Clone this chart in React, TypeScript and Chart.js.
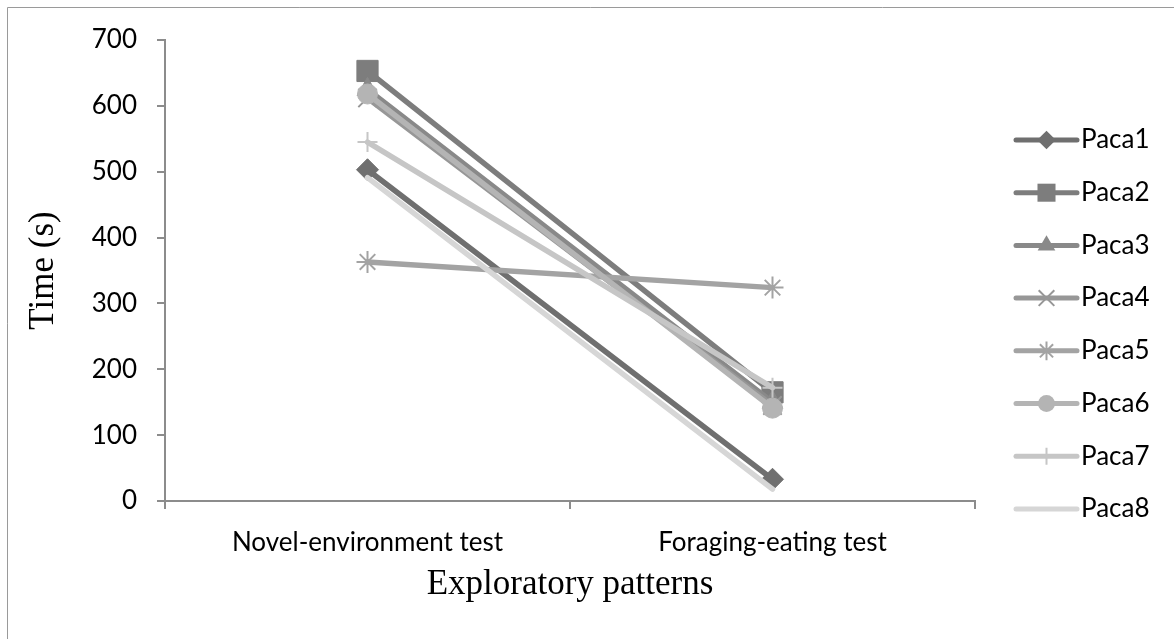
import React, { useEffect, useRef } from "react";
import { Chart, registerables } from "chart.js";

Chart.register(...registerables);

const categories = ["Novel-environment test", "Foraging-eating test"];
const seriesNames = ["Paca1", "Paca2", "Paca3", "Paca4", "Paca5", "Paca6", "Paca7", "Paca8"];
const paca1 = [503, 33];
const paca2 = [653, 165];
const paca3 = [625, 150];
const paca4 = [612, 145];
const paca5 = [363, 324];
const paca6 = [618, 141];
const paca7 = [545, 172];
const paca8 = [491, 18];
const seriesValues = [paca1, paca2, paca3, paca4, paca5, paca6, paca7, paca8];
const yTicks = [0, 100, 200, 300, 400, 500, 600, 700];

const colors = ["#6f6f6f", "#7d7d7d", "#898989", "#979797", "#a3a3a3", "#b4b4b4", "#c6c6c6", "#d6d6d6"];
const pointStyles = ["rectRot", "rect", "triangle", "crossRot", "star", "circle", "cross", "circle"];
const pointRadii = [11, 15, 12, 13, 11, 10, 10, 0];
const pointBorderWidths = [1, 1, 1, 2, 2, 1, 2, 0];

const TICK_FONT = "Lato";
const TICK_SIZE = 26;
const TITLE_FONT = "'Liberation Serif', 'Times New Roman', serif";

function drawMarker(ctx: CanvasRenderingContext2D, style: string, x: number, y: number, r: number, color: string, bw: number) {
  if (r <= 0) return;
  ctx.save();
  ctx.fillStyle = color;
  ctx.strokeStyle = color;
  ctx.lineWidth = bw;
  ctx.beginPath();
  if (style === "rectRot") {
    ctx.moveTo(x, y - r);
    ctx.lineTo(x + r, y);
    ctx.lineTo(x, y + r);
    ctx.lineTo(x - r, y);
    ctx.closePath();
    ctx.fill();
  } else if (style === "rect") {
    const s = r * Math.SQRT1_2;
    ctx.rect(x - s, y - s, 2 * s, 2 * s);
    ctx.fill();
  } else if (style === "triangle") {
    for (let k = 0; k < 3; k++) {
      const a = (k * 2 * Math.PI) / 3;
      const px = x + Math.sin(a) * r;
      const py = y - Math.cos(a) * r;
      if (k === 0) ctx.moveTo(px, py);
      else ctx.lineTo(px, py);
    }
    ctx.closePath();
    ctx.fill();
  } else if (style === "circle") {
    ctx.arc(x, y, r, 0, Math.PI * 2);
    ctx.fill();
  } else {
    const drawCross = (rot: number) => {
      for (let k = 0; k < 2; k++) {
        const a = rot + (k * Math.PI) / 2;
        const dx = Math.cos(a) * r;
        const dy = Math.sin(a) * r;
        ctx.moveTo(x - dx, y - dy);
        ctx.lineTo(x + dx, y + dy);
      }
    };
    if (style === "cross") drawCross(0);
    else if (style === "crossRot") drawCross(Math.PI / 4);
    else {
      drawCross(0);
      drawCross(Math.PI / 4);
    }
    ctx.stroke();
  }
  ctx.restore();
}

const framePlugin = {
  id: "frame",
  beforeDraw(chart: any) {
    const ctx = chart.ctx as CanvasRenderingContext2D;
    ctx.save();
    ctx.strokeStyle = "#9a9a9a";
    ctx.lineWidth = 1;
    ctx.beginPath();
    ctx.moveTo(7.5, chart.height);
    ctx.lineTo(7.5, 7.5);
    ctx.lineTo(chart.width, 7.5);
    ctx.stroke();
    ctx.restore();
  },
};

const legendPlugin = {
  id: "customLegend",
  afterDraw(chart: any) {
    const ctx = chart.ctx as CanvasRenderingContext2D;
    const x0 = 1016;
    const x1 = 1077;
    const yStart = 140;
    const step = 52.7;
    chart.data.datasets.forEach((ds: any, i: number) => {
      const y = yStart + i * step;
      ctx.save();
      ctx.strokeStyle = colors[i];
      ctx.lineWidth = 5;
      ctx.lineCap = "round";
      ctx.beginPath();
      ctx.moveTo(x0, y);
      ctx.lineTo(x1, y);
      ctx.stroke();
      ctx.restore();
      drawMarker(ctx, pointStyles[i], (x0 + x1) / 2, y, pointRadii[i] * 0.85, colors[i], pointBorderWidths[i]);
      ctx.save();
      ctx.fillStyle = "#000";
      ctx.font = `${TICK_SIZE}px ${TICK_FONT}`;
      ctx.textBaseline = "middle";
      ctx.textAlign = "left";
      ctx.fillText(ds.label, 1081, y);
      ctx.restore();
    });
  },
};

export default function App() {
  const ref = useRef<HTMLCanvasElement | null>(null);

  useEffect(() => {
    if (!ref.current) return;
    const datasets = seriesNames.map((name, i) => ({
      label: name,
      data: seriesValues[i],
      borderColor: colors[i],
      backgroundColor: colors[i],
      borderWidth: 5.5,
      borderCapStyle: "round" as const,
      pointStyle: pointStyles[i],
      pointRadius: pointRadii[i],
      pointHoverRadius: pointRadii[i],
      pointBorderWidth: pointBorderWidths[i],
      pointBackgroundColor: colors[i],
      pointBorderColor: colors[i],
      order: seriesNames.length - i,
      tension: 0,
    }));

    const chart = new Chart(ref.current, {
      type: "line",
      data: { labels: categories, datasets },
      plugins: [framePlugin, legendPlugin],
      options: {
        responsive: true,
        maintainAspectRatio: false,
        animation: false,
        events: [],
        layout: { padding: { left: 0, top: 40, right: 199, bottom: 0 } },
        plugins: {
          legend: { display: false },
          tooltip: { enabled: false },
          title: { display: false },
        },
        scales: {
          x: {
            type: "category",
            offset: true,
            afterFit(scale: any) {
              scale.height = 138;
            },
            grid: {
              display: true,
              offset: true,
              drawOnChartArea: false,
              drawTicks: true,
              tickLength: 8,
              color: "#8c8c8c",
              lineWidth: 2,
            },
            border: { display: true, color: "#8c8c8c", width: 2 },
            ticks: {
              color: "#000",
              padding: 18,
              maxRotation: 0,
              font: { family: TICK_FONT, size: TICK_SIZE },
            },
            title: {
              display: true,
              text: "Exploratory patterns",
              color: "#000",
              font: { family: TITLE_FONT, size: 35 },
              padding: { top: 4, bottom: 33 },
            },
          },
          y: {
            min: 0,
            max: 700,
            afterFit(scale: any) {
              scale.width = 165;
            },
            afterBuildTicks(scale: any) {
              scale.ticks = yTicks.map((v) => ({ value: v }));
            },
            grid: {
              display: true,
              drawOnChartArea: false,
              drawTicks: true,
              tickLength: 8,
              color: "#8c8c8c",
              lineWidth: 2,
            },
            border: { display: true, color: "#8c8c8c", width: 2 },
            ticks: {
              color: "#000",
              padding: 20,
              font: { family: TICK_FONT, size: TICK_SIZE },
            },
            title: {
              display: true,
              text: "Time (s)",
              color: "#000",
              font: { family: TITLE_FONT, size: 35 },
              padding: { top: 23, bottom: 0 },
            },
          },
        },
      },
    });
    return () => chart.destroy();
  }, []);

  return (
    <div style={{ position: "fixed", left: 0, top: 0, width: 1174, height: 639, background: "#fff" }}>
      <canvas ref={ref} />
    </div>
  );
}
